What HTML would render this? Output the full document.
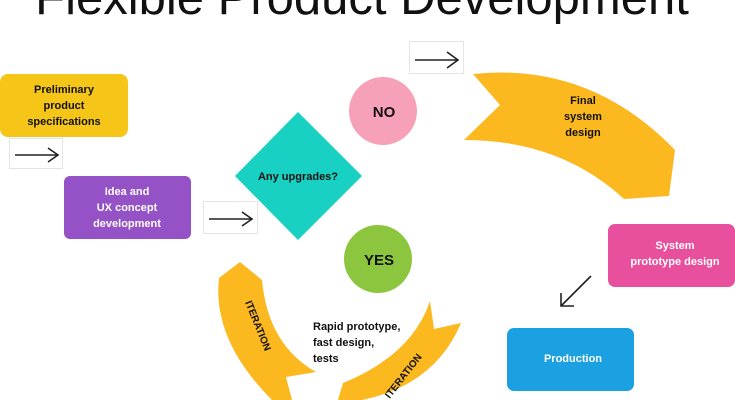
<!DOCTYPE html>
<html><head><meta charset="utf-8"><style>
html,body{margin:0;padding:0;background:#fff;}
svg{display:block;}
text{font-family:"Liberation Sans","DejaVu Sans",sans-serif;font-weight:bold;}
</style></head><body>
<svg width="735" height="400" viewBox="0 0 735 400" xmlns="http://www.w3.org/2000/svg">
<text x="362" y="14" font-size="49" text-anchor="middle" fill="#111" style="font-weight:normal">Flexible Product Development</text>

<g stroke="#e4e4e4" fill="#fff" stroke-width="1">
<rect x="409.5" y="41.5" width="54" height="32"/>
<rect x="9.5" y="138.5" width="53" height="30"/>
<rect x="203.5" y="201.5" width="54" height="32"/>
</g>
<g stroke="#222" stroke-width="1.6" fill="none">
<path d="M415 60 H458 M447 52 L458 60 L447 68"/>
<path d="M15 155 H58 M48 148 L58 155 L48 162"/>
<path d="M209 219 H252 M242 212 L252 219 L242 226"/>
<path d="M591 276 L561 306 M561 293 L561 306 L574 306"/>
</g>

<rect x="0" y="74" width="128" height="63" rx="8" fill="#f5c518"/>
<text font-size="11" fill="#111" text-anchor="middle"><tspan x="64" y="93">Preliminary</tspan><tspan x="64" y="109">product</tspan><tspan x="64" y="125">specifications</tspan></text>

<rect x="64" y="176" width="127" height="63" rx="6" fill="#9452c6"/>
<text font-size="11" fill="#fff" text-anchor="middle"><tspan x="127" y="195">Idea and</tspan><tspan x="127" y="211">UX concept</tspan><tspan x="127" y="227">development</tspan></text>

<polygon points="298,112 362,176 298,240 235,176" fill="#18d1c2"/>
<text x="298" y="180" font-size="11" fill="#111" text-anchor="middle">Any upgrades?</text>

<circle cx="383" cy="111" r="34" fill="#f7a1b8"/>
<text x="384" y="117" font-size="15" fill="#111" text-anchor="middle">NO</text>
<circle cx="378" cy="259" r="34" fill="#8cc63f"/>
<text x="379" y="265" font-size="15" fill="#111" text-anchor="middle">YES</text>

<path d="M473 74 Q590 62 675 150 L669 196 L624 199 Q560 140 464 140 L500 105 Z" fill="#fbb81f"/>
<text font-size="11" fill="#111" text-anchor="middle"><tspan x="583" y="104">Final</tspan><tspan x="583" y="120">system</tspan><tspan x="583" y="136">design</tspan></text>

<path d="M240 262 L262 280 Q268 345 316 372 L286 377 L292 400 L272 400 Q212 340 219 278 Z" fill="#fbb81f"/>
<text font-size="10" fill="#111" text-anchor="middle" transform="translate(255,327) rotate(68)">ITERATION</text>

<path d="M430 301 L434 329 L461 323 Q435 385 362 400 L338 400 L343 383 Q412 355 430 301 Z" fill="#fbb81f"/>
<text font-size="10" fill="#111" text-anchor="middle" transform="translate(406,378) rotate(-52)">ITERATION</text>

<text font-size="11" fill="#111"><tspan x="313" y="330">Rapid prototype,</tspan><tspan x="313" y="346">fast design,</tspan><tspan x="313" y="362">tests</tspan></text>

<rect x="608" y="224" width="127" height="63" rx="7" fill="#e8509e"/>
<text font-size="11" fill="#fff" text-anchor="middle"><tspan x="675" y="249">System</tspan><tspan x="675" y="265">prototype design</tspan></text>

<rect x="507" y="328" width="127" height="63" rx="7" fill="#1ba0e2"/>
<text x="573" y="362" font-size="11" fill="#fff" text-anchor="middle">Production</text>
</svg>
</body></html>
